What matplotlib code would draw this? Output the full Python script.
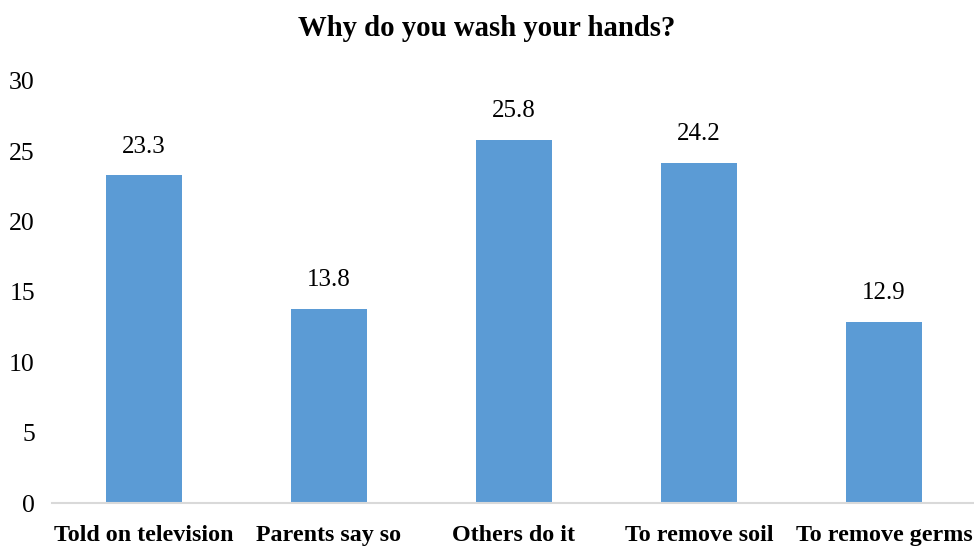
import matplotlib.pyplot as plt

reasons = ['Told on television', 'Parents say so', 'Others do it',
           'To remove soil', 'To remove germs']
percent = [23.3, 13.8, 25.8, 24.2, 12.9]
yticks = [0, 5, 10, 15, 20, 25, 30]

plt.rcParams['font.family'] = ['Liberation Serif', 'DejaVu Serif']

fig = plt.figure(figsize=(9.74, 5.47), dpi=100)
ax = fig.add_axes([51.5 / 974, 1 - 503 / 547, 925 / 974, 422 / 547])

x = range(len(reasons))
bars = ax.bar(x, percent, width=0.416, color='#5b9bd5', zorder=2)
for b, v in zip(bars, percent):
    ax.text(b.get_x() + b.get_width() / 2, v + 1.25, f'{v:.1f}',
            ha='center', va='bottom', fontsize=18)

ax.set_xlim(-0.5, len(reasons) - 0.5)
ax.set_ylim(0, 30)
ax.set_yticks(yticks)
ax.set_xticks(list(x))
ax.set_xticklabels(reasons, fontsize=17.3, fontweight='bold')
ax.tick_params(axis='y', labelsize=18.5, length=0, pad=12)
ax.tick_params(axis='x', length=0, pad=16)
for s in ['top', 'right', 'left']:
    ax.spines[s].set_visible(False)
ax.spines['bottom'].set_color('#d9d9d9')
ax.spines['bottom'].set_linewidth(1.5)

fig.text(0.5, 1 - 28 / 547, 'Why do you wash your hands?', ha='center',
         va='center', fontsize=20.7, fontweight='bold')

fig.savefig('out.png', dpi=100)
